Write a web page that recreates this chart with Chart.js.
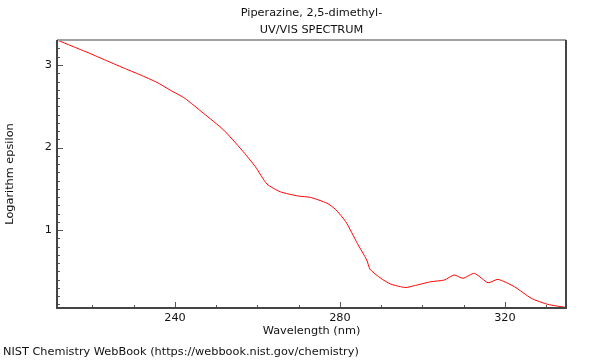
<!DOCTYPE html>
<html lang="en">
<head>
    <meta charset="UTF-8">
    <script src="https://cdn.jsdelivr.net/npm/chart.js@4.4.0/dist/chart.umd.min.js"></script>
    <title>Piperazine, 2,5-dimethyl- UV/VIS spectrum</title>
    <style>
        * { margin: 0; padding: 0; box-sizing: border-box; }
        body { background: #fff; width: 600px; height: 360px; overflow: hidden; }
        .wrap { position: relative; width: 600px; height: 360px; }
    </style>
</head>
<body>
    <div class="wrap"><canvas id="spectrum" width="600" height="360"></canvas></div>

    <script>
        // spectrum
        const wavelength = [211.4, 215.0, 219.3, 223.2, 227.4, 231.5, 235.6, 238.8, 242.4, 246.9, 251.8, 256.2,
                            259.5, 262.3, 265.5, 269.9, 272.8, 276.9, 278.9, 281.4, 284.2, 286.5, 287.3, 289.9,
                            292.3, 294.7, 296.0, 298.0, 302.0, 305.3, 307.7, 309.8, 312.6, 315.9, 318.3, 322.3,
                            326.4, 330.4, 334.5, 334.8];
        const logEps = [3.303, 3.230, 3.142, 3.057, 2.967, 2.882, 2.790, 2.697, 2.596, 2.415, 2.212, 1.970,
                        1.767, 1.558, 1.464, 1.412, 1.396, 1.324, 1.251, 1.101, 0.839, 0.636, 0.524, 0.415,
                        0.345, 0.313, 0.303, 0.325, 0.373, 0.394, 0.455, 0.415, 0.475, 0.361, 0.402, 0.313,
                        0.172, 0.099, 0.063, 0.055];

        const xMajor = [240, 280, 320];
        const yMajor = [1, 2, 3];
        const xRange = [211.4, 334.8];
        const yRange = [0.055, 3.303];

        const font = "'DejaVu Sans', sans-serif";

        // frame, inward ticks and the texts around the plot
        const framePlugin = {
            id: 'frame',
            afterDraw(chart) {
                const { ctx, chartArea: a, scales: { x, y } } = chart;
                ctx.save();
                ctx.strokeStyle = '#555';
                ctx.lineWidth = 1;
                // minor + major ticks on x
                for (let v = 220; v <= xRange[1]; v += 10) {
                    const px = Math.round(x.getPixelForValue(v)) + 0.5;
                    const len = xMajor.includes(v) ? 6 : 3;
                    ctx.beginPath(); ctx.moveTo(px, a.bottom); ctx.lineTo(px, a.bottom - len); ctx.stroke();
                }
                for (let i = 1; i <= 33; i++) {
                    const v = i / 10;
                    if (v < yRange[0] || v > yRange[1]) continue;
                    const py = Math.round(y.getPixelForValue(v)) + 0.5;
                    const len = (i % 10 === 0) ? 6 : 3;
                    ctx.beginPath(); ctx.moveTo(a.left, py); ctx.lineTo(a.left + len, py); ctx.stroke();
                }
                // frame
                ctx.lineWidth = 2;
                ctx.strokeStyle = '#a0a0a0';
                ctx.beginPath(); ctx.moveTo(a.left, a.top); ctx.lineTo(a.right, a.top); ctx.stroke();
                ctx.strokeStyle = '#444';
                ctx.beginPath();
                ctx.moveTo(a.left, a.top); ctx.lineTo(a.left, a.bottom);
                ctx.lineTo(a.right, a.bottom); ctx.lineTo(a.right, a.top);
                ctx.stroke();

                ctx.fillStyle = '#111';
                ctx.font = '11.3px ' + font;
                ctx.textBaseline = 'middle';
                ctx.textAlign = 'center';
                const cx = (a.left + a.right) / 2;
                ctx.fillText('Piperazine, 2,5-dimethyl-', cx, 13);
                ctx.fillText('UV/VIS SPECTRUM', cx, 30);
                ctx.fillText('Wavelength (nm)', cx, 331);
                ctx.save();
                ctx.translate(10, (a.top + a.bottom) / 2);
                ctx.rotate(-Math.PI / 2);
                ctx.fillText('Logarithm epsilon', 0, 0);
                ctx.restore();
                ctx.textAlign = 'left';
                ctx.fillText('NIST Chemistry WebBook (https://webbook.nist.gov/chemistry)', 3, 352);
                ctx.restore();
            }
        };

        new Chart(document.getElementById('spectrum'), {
            type: 'line',
            data: {
                datasets: [{
                    data: wavelength.map((w, i) => ({ x: w, y: logEps[i] })),
                    borderColor: '#ff0000',
                    borderWidth: 1,
                    pointRadius: 0,
                    tension: 0.2,
                    fill: false
                }]
            },
            options: {
                responsive: false,
                animation: false,
                layout: { padding: { top: 40, right: 34, left: 0, bottom: 0 } },
                plugins: { legend: { display: false }, tooltip: { enabled: false }, title: { display: false } },
                scales: {
                    x: {
                        type: 'linear',
                        min: xRange[0],
                        max: xRange[1],
                        border: { display: false },
                        grid: { display: false, drawTicks: false },
                        afterBuildTicks: s => { s.ticks = xMajor.map(v => ({ value: v })); },
                        afterFit: s => { s.height = 52; },
                        ticks: { color: '#111', font: { family: font, size: 11.3 }, padding: 3, maxRotation: 0 }
                    },
                    y: {
                        min: yRange[0],
                        max: yRange[1],
                        border: { display: false },
                        grid: { display: false, drawTicks: false },
                        afterBuildTicks: s => { s.ticks = yMajor.map(v => ({ value: v })); },
                        afterFit: s => { s.width = 57; },
                        ticks: { color: '#111', font: { family: font, size: 11.3 }, padding: 5 }
                    }
                }
            },
            plugins: [framePlugin]
        });
    </script>
</body>
</html>
